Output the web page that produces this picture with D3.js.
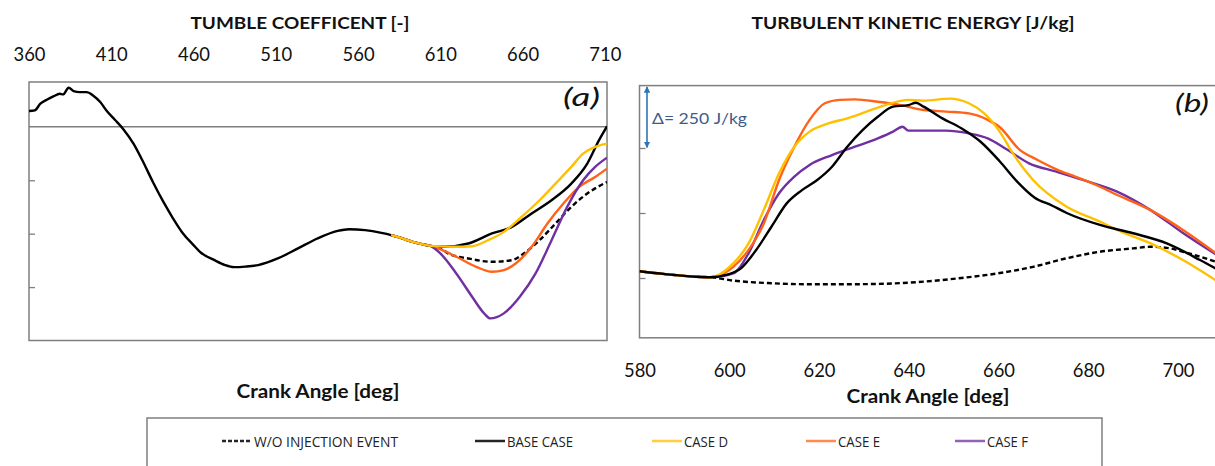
<!DOCTYPE html>
<html><head><meta charset="utf-8">
<script src="https://cdn.jsdelivr.net/npm/d3@7"></script>
<style>body{margin:0;background:#fff}svg{display:block}</style>
</head><body>
<svg id="c" width="1215" height="466"></svg>
<script>
// ---------- DATA ----------
// Panel (a): tumble coefficient, shared history before injection (all cases)
const tumbleCommonCA = [360.0,363.5,366.9,370.8,374.8,378.7,380.7,384.1,387.1,391.0,395.0,398.9,403.3,407.3,412.2,417.1,423.5,429.4,435.3,441.7,447.6,453.6,460.0,463.9,472.8,479.2,484.6,491.5,499.3,511.2,523.5,535.3,547.6,554.5,564.3,574.2];
const tumbleCommon   = [0.148,0.154,0.217,0.254,0.285,0.310,0.304,0.366,0.335,0.325,0.325,0.294,0.232,0.148,0.067,-0.017,-0.157,-0.329,-0.516,-0.703,-0.858,-0.998,-1.107,-1.170,-1.248,-1.294,-1.313,-1.308,-1.294,-1.232,-1.138,-1.045,-0.974,-0.958,-0.967,-0.993];
const tumbleSharedCA = [580.1,586.0,593.2,598.8,604.0];
const tumbleShared   = [-1.014,-1.040,-1.077,-1.098,-1.114];
const tumbleWoCA   = [609.8,614.7,627.0,641.4,653.5,660.7,670.3,680.0,689.6,699.3,711.3];
const tumbleWo     = [-1.13,-1.185,-1.232,-1.263,-1.248,-1.185,-1.061,-0.905,-0.749,-0.624,-0.516];
const tumbleBaseCA = [612.5,627.0,641.4,653.5,665.5,677.6,689.6,699.3,706.4,711.3];
const tumbleBase   = [-1.123,-1.092,-0.998,-0.936,-0.811,-0.687,-0.531,-0.344,-0.126,0.005];
const tumbleDCA    = [619.7,629.3,639.1,648.6,658.3,670.3,680.0,689.6,696.8,704.1,711.3];
const tumbleD      = [-1.123,-1.117,-1.061,-0.983,-0.858,-0.687,-0.531,-0.375,-0.251,-0.188,-0.157];
const tumbleECA    = [610.6,619.7,631.8,641.4,648.6,655.8,665.5,675.1,684.8,694.4,704.1,711.3];
const tumbleE      = [-1.15,-1.216,-1.310,-1.357,-1.341,-1.279,-1.123,-0.905,-0.718,-0.562,-0.469,-0.391];
const tumbleFCA    = [610.0,619.7,629.3,636.6,640.3,648.6,658.3,667.9,677.6,687.1,696.8,704.1,711.3];
const tumbleF      = [-1.185,-1.372,-1.590,-1.746,-1.793,-1.746,-1.590,-1.372,-1.061,-0.749,-0.500,-0.375,-0.288];

// Panel (b): turbulent kinetic energy [J/kg]
const tkeCommonCA = [580,585.7,592.5,595.8];
const tkeCommon   = [276,265,255,253];
const tkeWoCA   = [600.9,609.4,617.9,626.3,634.8,643.3,651.7,660.3,667.7,675.2,682.6,690,693.8,697.5,701.1,708.5];
const tkeWo     = [240,230,226,226,228,236,250,269,293,326,351,364,370,366,351,312];
const tkeBaseCA = [599.3,602.6,606,609.4,612.8,616.2,619.6,622.9,626.3,629.7,633.1,636.5,639.9,641.6,643.3,647.5,651.7,656,660.2,664.2,668,672,675.2,682.6,690,697.5,704.9,708.5];
const tkeBase   = [262,287,358,447,537,588,627,678,755,819,870,909,915,924,909,864,826,774,700,620,560,528,500,454,422,383,319,285];
const tkeDCA    = [600.9,604.3,607.7,611.1,614.5,617.9,622.1,626.3,630.6,634.8,639.9,643.3,649.2,653.4,656.8,660.3,663.2,667.7,675.2,682.6,686.4,693.8,701.1,708.5];
const tkeD      = [306,383,512,653,755,813,845,864,890,915,935,932,940,922,883,812,729,627,524,467,435,384,319,240];
const tkeECA    = [600.9,604.3,607.7,611.1,614.5,617.9,621.3,624.6,628,633.1,638.2,643.3,648.3,653.4,657.6,660.3,664.6,668.7,672.9,677.1,682.6,685.6,693.8,701.1,708.5];
const tkeE      = [293,358,460,627,755,858,922,935,937,928,915,896,890,883,858,830,745,704,668,640,601,576,512,435,345];
const tkeFCA    = [600.9,604.3,607.7,611.1,614.5,617.9,622.9,628,633.1,636.5,638.6,639.9,643.3,648.3,653.4,657.6,661.8,666.8,672.9,678.8,686.4,693.8,701.1,708.5];
const tkeF      = [268,345,473,576,640,685,723,755,787,813,832,817,817,817,806,787,745,691,659,627,582,512,423,340];

const topTicks = [360,410,460,510,560,610,660,710];
const bottomTicks = [580,600,620,640,660,680,700];
const tumbleTicks = [-1.5,-1,-0.5];
const tkeTicks = [250,500,750];

const seriesNames = ["W/O INJECTION EVENT","BASE CASE","CASE D","CASE E","CASE F"];
const seriesColors = ["#000000","#000000","#FFC000","#FF6319","#7030A0"];

// ---------- HELPERS ----------
const zip = (xs, ys) => xs.map((x,i)=>[x, ys[i]]);
const svg = d3.select("#c");
const FONT = "Lato, 'Open Sans', sans-serif";
const NARROW = "'Liberation Sans Narrow', 'Open Sans', sans-serif";
const BORDER = "#7f7f7f";
const LW = 2.4;

// ---------- PANEL (a) ----------
const xL = d3.scaleLinear().domain([360, 711.3]).range([29, 607]);
const yL = d3.scaleLinear().domain([-2, 0.42]).range([340.5, 82]);
const [a0, a1] = xL.domain();
const [ab, at] = yL.domain();

svg.append("clipPath").attr("id","clipA").append("rect")
  .attr("x", xL(a0)).attr("y", yL(at)).attr("width", xL(a1)-xL(a0)).attr("height", yL(ab)-yL(at));

svg.append("rect").attr("x", xL(a0)).attr("y", yL(at))
  .attr("width", xL(a1)-xL(a0)).attr("height", yL(ab)-yL(at))
  .attr("fill","none").attr("stroke",BORDER).attr("stroke-width",1.5);

svg.append("line").attr("x1", xL(a0)).attr("x2", xL(a1)).attr("y1", yL(0)).attr("y2", yL(0))
  .attr("stroke",BORDER).attr("stroke-width",1.5);

svg.append("g").attr("transform",`translate(${xL(a0)},0)`)
  .call(d3.axisLeft(yL).tickValues(tumbleTicks).tickSize(-6).tickFormat(""))
  .call(g=>g.select(".domain").remove())
  .call(g=>g.selectAll("line").attr("stroke",BORDER).attr("stroke-width",1.3));

svg.append("g").attr("transform","translate(0,61)")
  .call(d3.axisTop(xL).tickValues(topTicks).tickSize(0).tickPadding(0).tickFormat(d3.format("d")))
  .call(g=>g.select(".domain").remove())
  .call(g=>g.selectAll("text").attr("font-family",FONT).attr("font-size",20).attr("fill","#111")
    .attr("dy","0").attr("textLength",32).attr("lengthAdjust","spacingAndGlyphs"));

const lineA = d3.line().x(d=>xL(d[0])).y(d=>yL(d[1])).curve(d3.curveMonotoneX);
const common = zip(tumbleCommonCA, tumbleCommon);
const shared = zip(tumbleSharedCA, tumbleShared);
const gA = svg.append("g").attr("clip-path","url(#clipA)");
const aSeries = [
  {d: shared.concat(zip(tumbleWoCA,tumbleWo)), c:"#000", dash:"5,3"},
  {d: common.concat(shared, zip(tumbleBaseCA,tumbleBase)), c:"#000"},
  {d: shared.concat(zip(tumbleECA,tumbleE)), c:seriesColors[3]},
  {d: shared.concat(zip(tumbleFCA,tumbleF)), c:seriesColors[4]},
  {d: shared.concat(zip(tumbleDCA,tumbleD)), c:seriesColors[2]}
];
aSeries.forEach(s=>{
  gA.append("path").attr("d", lineA(s.d)).attr("fill","none").attr("stroke",s.c)
    .attr("stroke-width",LW).attr("stroke-dasharray", s.dash||null).attr("stroke-linejoin","round");
});

svg.append("text").attr("x",300).attr("y",29).attr("text-anchor","middle")
  .attr("font-family",FONT).attr("font-weight","bold").attr("font-size",17).attr("fill","#111")
  .attr("textLength",219).attr("lengthAdjust","spacingAndGlyphs").text("TUMBLE COEFFICENT [-]");
svg.append("text").attr("x",600).attr("y",106).attr("text-anchor","end")
  .attr("font-family",FONT).attr("font-style","italic").attr("font-size",26).attr("fill","#111")
  .attr("textLength",37).attr("lengthAdjust","spacingAndGlyphs").text("(a)");
svg.append("text").attr("x",318).attr("y",398).attr("text-anchor","middle")
  .attr("font-family",FONT).attr("font-weight","bold").attr("font-size",18).attr("fill","#111")
  .attr("textLength",163).attr("lengthAdjust","spacingAndGlyphs").text("Crank Angle [deg]");

// ---------- PANEL (b) ----------
const xR = d3.scaleLinear().domain([580, 712]).range([639.5, 1231.9]);
const yR = d3.scaleLinear().domain([20, 990]).range([337.8, 85.6]);
const [b0, b1] = xR.domain();
const [bb, bt] = yR.domain();

svg.append("clipPath").attr("id","clipB").append("rect")
  .attr("x", xR(b0)).attr("y", yR(bt)).attr("width", xR(b1)-xR(b0)).attr("height", yR(bb)-yR(bt));

svg.append("rect").attr("x", xR(b0)).attr("y", yR(bt))
  .attr("width", xR(b1)-xR(b0)).attr("height", yR(bb)-yR(bt))
  .attr("fill","none").attr("stroke",BORDER).attr("stroke-width",1.5);

svg.append("g").attr("transform",`translate(${xR(b0)},0)`)
  .call(d3.axisLeft(yR).tickValues(tkeTicks).tickSize(-6).tickFormat(""))
  .call(g=>g.select(".domain").remove())
  .call(g=>g.selectAll("line").attr("stroke",BORDER).attr("stroke-width",1.3));

svg.append("g").attr("transform","translate(0,377)")
  .call(d3.axisBottom(xR).tickValues(bottomTicks).tickSize(0).tickPadding(0).tickFormat(d3.format("d")))
  .call(g=>g.select(".domain").remove())
  .call(g=>g.selectAll("text").attr("font-family",FONT).attr("font-size",20).attr("fill","#111")
    .attr("dy","0").attr("textLength",32).attr("lengthAdjust","spacingAndGlyphs"));

const lineB = d3.line().x(d=>xR(d[0])).y(d=>yR(d[1])).curve(d3.curveMonotoneX);
const tc = zip(tkeCommonCA, tkeCommon);
const gB = svg.append("g").attr("clip-path","url(#clipB)");
const bSeries = [
  {d: tc.concat(zip(tkeWoCA,tkeWo)), c:"#000", dash:"5,3"},
  {d: tc.concat(zip(tkeFCA,tkeF)), c:seriesColors[4]},
  {d: tc.concat(zip(tkeECA,tkeE)), c:seriesColors[3]},
  {d: tc.concat(zip(tkeDCA,tkeD)), c:seriesColors[2]},
  {d: tc.concat(zip(tkeBaseCA,tkeBase)), c:"#000"}
];
bSeries.forEach(s=>{
  gB.append("path").attr("d", lineB(s.d)).attr("fill","none").attr("stroke",s.c)
    .attr("stroke-width",LW).attr("stroke-dasharray", s.dash||null).attr("stroke-linejoin","round");
});

// delta annotation
const defs = svg.append("defs");
defs.append("marker").attr("id","arr").attr("viewBox","0 0 10 10").attr("refX",9).attr("refY",5)
  .attr("markerWidth",4).attr("markerHeight",4).attr("orient","auto-start-reverse")
  .append("path").attr("d","M0,0L10,5L0,10z").attr("fill","#2E75B6");
svg.append("line").attr("x1", 647).attr("x2", 647).attr("y1", yR(985)).attr("y2", yR(752))
  .attr("stroke","#2E75B6").attr("stroke-width",1.6)
  .attr("marker-start","url(#arr)").attr("marker-end","url(#arr)");
svg.append("text").attr("x",652).attr("y",124).attr("font-family",FONT).attr("font-size",16)
  .attr("fill","#3E5B8A").attr("textLength",95).attr("lengthAdjust","spacingAndGlyphs").text("Δ= 250 J/kg");

svg.append("text").attr("x",913).attr("y",29).attr("text-anchor","middle")
  .attr("font-family",FONT).attr("font-weight","bold").attr("font-size",17).attr("fill","#111")
  .attr("textLength",323).attr("lengthAdjust","spacingAndGlyphs").text("TURBULENT KINETIC ENERGY [J/kg]");
svg.append("text").attr("x",1209).attr("y",112).attr("text-anchor","end")
  .attr("font-family",FONT).attr("font-style","italic").attr("font-size",26).attr("fill","#111")
  .attr("textLength",34).attr("lengthAdjust","spacingAndGlyphs").text("(b)");
svg.append("text").attr("x",928).attr("y",403).attr("text-anchor","middle")
  .attr("font-family",FONT).attr("font-weight","bold").attr("font-size",18).attr("fill","#111")
  .attr("textLength",163).attr("lengthAdjust","spacingAndGlyphs").text("Crank Angle [deg]");

// ---------- LEGEND ----------
svg.append("rect").attr("x",147).attr("y",418).attr("width",955).attr("height",70)
  .attr("fill","none").attr("stroke",BORDER).attr("stroke-width",1.5);
const legLineX = [222,475,652,806,955];
const legTextW = [144,66,44,42,41];
seriesNames.forEach((n,i)=>{
  svg.append("line").attr("x1",legLineX[i]).attr("x2",legLineX[i]+30).attr("y1",441).attr("y2",441)
    .attr("stroke", seriesColors[i]).attr("stroke-width",2.5)
    .attr("stroke-dasharray", i===0 ? "4,2" : null).attr("opacity", i===0||i===1 ? 0.85 : 0.75);
  svg.append("text").attr("x",legLineX[i]+32).attr("y",447)
    .attr("font-family",NARROW).attr("font-size",14).attr("fill","#222")
    .attr("textLength",legTextW[i]).attr("lengthAdjust","spacingAndGlyphs").text(n);
});
</script>
</body></html>
